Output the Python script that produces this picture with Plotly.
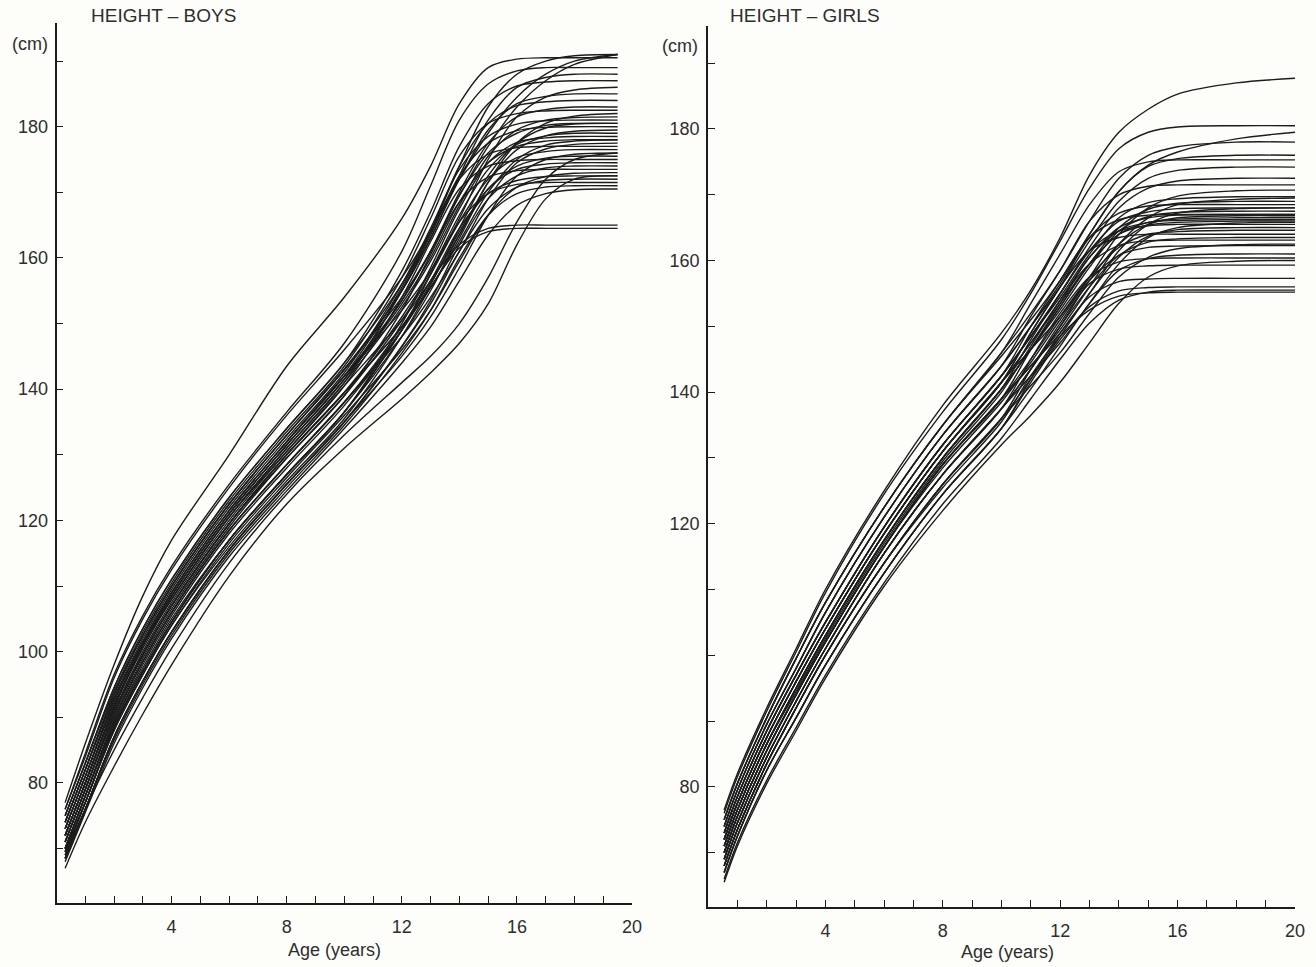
import plotly.graph_objects as go

# ---------------- data ----------------
boys_ages = [0.3, 1, 2, 3, 4, 6, 8, 10, 12, 13, 14, 15, 16, 17, 18, 19.5]
boys_heights = [
    [77, 86, 98, 108.5, 117, 130, 143.5, 154, 166, 174, 183.5, 189, 190.3, 190.5, 190.5, 190.5],
    [76, 84, 96, 105, 112.5, 125, 136, 146, 157, 164, 172, 179, 184.5, 188, 190, 191],
    [75, 83, 94.5, 103.5, 111, 123.5, 134, 144, 156, 164, 174, 183, 188, 190, 190.8, 191],
    [76, 84.5, 96.5, 105.5, 113, 125.5, 136.5, 147, 161, 171, 181, 186.5, 188.5, 189, 189, 189],
    [74, 82, 93.5, 102.5, 110, 122.5, 133, 143, 155, 163, 172.5, 181, 186, 187.5, 188, 188],
    [75, 83, 94.5, 103.5, 111, 123.5, 134, 144, 158, 167, 177, 183.5, 186.2, 186.8, 187, 187],
    [73, 81, 92.5, 101.5, 109, 121.5, 132, 142, 152, 158, 166, 175, 181.5, 184.5, 185.6, 186],
    [74, 82, 93.5, 102.5, 110, 122.5, 133, 143, 155, 163, 172, 179.5, 183.5, 184.6, 185, 185],
    [72, 80, 91.5, 101, 108, 120.5, 131, 141, 155, 164, 174, 180.5, 183.2, 183.8, 184, 184],
    [73, 81, 92.5, 101.5, 109, 121.5, 132, 142, 153.5, 161, 170, 177.5, 181.5, 182.6, 183, 183],
    [75, 83, 94, 103, 110.5, 123, 133.5, 143.5, 157, 166, 175.5, 180.5, 182, 182.4, 182.5, 182.5],
    [71, 79, 90.5, 99.5, 107, 119.5, 130, 139.5, 149.5, 155.5, 163, 171.5, 177.5, 180.5, 181.6, 182],
    [72, 80, 91.5, 101, 108, 120.5, 131, 141, 152.5, 159.5, 168, 175.5, 179.5, 181, 181.4, 181.5],
    [74, 82, 93, 102, 109.5, 122, 132.5, 142.5, 156, 164.5, 173.5, 178.5, 180.4, 180.9, 181, 181],
    [70, 78, 89.5, 98.5, 106, 118.5, 128.5, 138, 149, 156, 164.5, 172.5, 177.5, 179.8, 180.4, 180.5],
    [73, 81, 92, 101, 108.5, 121, 131.5, 141.5, 155, 163.5, 172.5, 177.5, 179.4, 179.9, 180, 180],
    [72, 80, 91.5, 100.5, 108, 120.5, 130.5, 140.5, 150.5, 156.5, 163.5, 171.5, 176.5, 178.6, 179.3, 179.5],
    [71, 79, 90.5, 99.5, 107, 119.5, 130, 139.5, 151, 158, 166.5, 173.5, 177.3, 178.6, 179, 179],
    [69.5, 77, 88.5, 97, 104.5, 117, 127, 136.5, 150, 158.5, 167.5, 174.5, 177.6, 178.3, 178.5, 178.5],
    [72, 80, 91.5, 101, 108.5, 121, 131.5, 141.5, 153, 160, 168.5, 174.5, 177, 177.8, 178, 178],
    [70, 78, 89.5, 98.5, 106, 118.5, 128.5, 138, 148, 154, 161, 169, 174.5, 176.6, 177.3, 177.5],
    [73, 81, 92.5, 101.5, 109, 121.5, 132, 142, 155.5, 164, 172, 175.8, 176.8, 177, 177, 177],
    [71, 79, 90, 99, 106.5, 119, 129.5, 139, 150.5, 157.5, 165.5, 172, 175.3, 176.2, 176.5, 176.5],
    [68.5, 76, 87, 95.5, 103, 115.5, 125.5, 135, 145, 151, 158.5, 166.5, 172.5, 175, 175.8, 176],
    [69.5, 77, 88.5, 97, 104.5, 117, 127, 136.5, 148, 155, 163.5, 170.5, 174, 175.2, 175.5, 175.5],
    [72, 80, 91, 100, 107.5, 120, 130.5, 140.5, 154, 162.5, 170.5, 174, 174.8, 175, 175, 175],
    [70, 78, 89, 98, 105.5, 118, 128, 137.5, 149, 156, 164, 170.5, 173.5, 174.3, 174.5, 174.5],
    [68.5, 76, 87, 95.5, 103, 115.5, 125.5, 135, 146.5, 153.5, 162, 169, 172.5, 173.7, 174, 174],
    [71, 79, 90.5, 99.5, 107, 119.5, 129.5, 139, 152, 160.5, 168.5, 172.3, 173.3, 173.5, 173.5, 173.5],
    [69.5, 77, 88, 96.5, 104, 116.5, 126.5, 136, 146, 152, 159.5, 166.5, 170.8, 172.4, 172.9, 173],
    [70, 78, 89.5, 98.5, 106, 118.5, 128.5, 138, 149.5, 156.5, 164.5, 169.8, 171.8, 172.4, 172.5, 172.5],
    [68.5, 76, 87, 95.5, 103, 115.5, 125.5, 135, 146.5, 153, 161, 167.5, 170.8, 171.8, 172, 172],
    [67, 74, 82.5, 90.5, 98, 111.5, 122.5, 131, 138.5, 142.5, 147, 153, 162, 169, 172, 172.5],
    [69, 76, 85, 93, 100.5, 113.5, 124, 133, 141, 145, 150, 157, 165.5, 172, 175, 176],
    [69.5, 77, 88.5, 97, 104.5, 117, 127, 136.5, 149, 157.5, 165.5, 169.8, 171.2, 171.5, 171.5, 171.5],
    [68.5, 76, 86.5, 95, 102.5, 115, 125, 134.5, 145.5, 152, 160, 166.5, 169.8, 170.8, 171, 171],
    [68, 75.5, 86, 94.5, 102, 114.5, 124.5, 134, 144, 149.5, 156.5, 163.5, 168, 169.8, 170.4, 170.5],
    [70, 78, 89, 97.5, 105, 117, 127, 136.5, 149, 156.5, 162, 164.5, 165, 165, 165, 165],
    [69, 77, 88, 96.5, 104, 116, 126, 135.5, 148, 155.5, 161.5, 164, 164.5, 164.5, 164.5, 164.5],
    [74, 82, 93.5, 102.5, 110, 122.5, 133, 143, 154, 161, 169.5, 177, 183, 187, 189.5, 191],
    [72, 80, 91.5, 101, 108.5, 121, 131.5, 141.5, 153.5, 161, 169.5, 176, 179, 180.2, 180.5, 180.5],
    [71, 79, 90.5, 99.5, 107, 119.5, 130, 139.5, 149.5, 155.5, 162.5, 170, 175, 177.2, 177.8, 178],
]

girls_ages = [0.55, 1, 2, 3, 4, 6, 8, 10, 11, 12, 13, 14, 15, 16, 18, 20]
girls_heights = [
    [76.5, 82, 92, 101, 110, 125, 138, 149, 155.5, 163.5, 173, 179.5, 183, 185.3, 187, 187.7],
    [76, 81.5, 91.5, 100.5, 109.5, 124.5, 137, 148, 155, 163, 171, 177, 179.5, 180.3, 180.5, 180.5],
    [75, 80.5, 90.5, 99.5, 108, 122.5, 135, 145.5, 151, 157, 164, 170.5, 174.5, 176.5, 178.5, 179.5],
    [75, 80.5, 90.5, 99.5, 108, 122.5, 135, 146, 152, 158.5, 166, 172.5, 176, 177.3, 178, 178],
    [74, 79.5, 89.5, 98, 106.5, 121, 133.5, 144, 150, 156.5, 164, 170.5, 174.3, 175.5, 176, 176],
    [75, 80.5, 90.5, 99.5, 108, 122.5, 135, 146, 153.5, 161, 168.5, 173.5, 175, 175.3, 175.3, 175.3],
    [74, 79.5, 89.5, 98, 106.5, 121, 133.5, 144, 150, 156, 163, 169, 172.5, 173.7, 174.2, 174.2],
    [73, 78.5, 88.5, 97, 105, 119.5, 132, 142.5, 148.5, 155, 162, 168, 171, 172.1, 172.5, 172.5],
    [74, 79.5, 89.5, 98, 106.5, 121, 133.5, 144, 151.5, 158.5, 166, 170, 171.3, 171.5, 171.5, 171.5],
    [72, 77.5, 87.5, 96, 104, 118.5, 131, 141.5, 146.5, 151.5, 157.5, 164, 168, 169.8, 170.6, 170.7],
    [73, 78.5, 88.5, 97, 105, 119.5, 132, 142.5, 148.5, 154.5, 161, 166.5, 168.8, 169.4, 169.7, 169.7],
    [71, 76.5, 86.5, 95, 103, 117.5, 130, 140.5, 146.5, 153, 159.5, 165, 167.8, 168.7, 169, 169],
    [72, 77.5, 87.5, 96, 104, 118.5, 131, 141.5, 149, 156, 163.5, 167.2, 168.3, 168.5, 168.5, 168.5],
    [70, 75.5, 85.5, 94, 102, 116.5, 129, 139, 144, 149, 155, 161.5, 165.5, 167.2, 167.9, 168],
    [71, 76.5, 86.5, 95, 103, 117.5, 130, 140.5, 146.5, 152.5, 159, 164.5, 166.7, 167.3, 167.5, 167.5],
    [73, 78.5, 88.5, 97, 105, 119.5, 132, 142.5, 150, 157, 163.5, 166.2, 166.9, 167, 167, 167],
    [69, 74.5, 84.5, 93, 101, 115.5, 127.5, 137.5, 143.5, 150, 157, 162.5, 165.5, 166.5, 166.8, 166.8],
    [71, 76.5, 86.5, 95, 103, 117.5, 130, 140.5, 146.5, 153, 159.5, 164, 165.8, 166.3, 166.5, 166.5],
    [70, 75.5, 85.5, 94, 102, 116.5, 129, 139, 146.5, 153.5, 160.5, 164.5, 165.8, 166.1, 166.2, 166.2],
    [72, 77.5, 87.5, 96, 104, 118.5, 131, 141.5, 147.5, 153.5, 159.5, 164, 165.4, 165.8, 166, 166],
    [69, 74.5, 84.5, 93, 101, 115.5, 127.5, 137.5, 142.5, 147.5, 153.5, 159.5, 163.5, 165, 165.7, 165.8],
    [71, 76.5, 86.5, 95, 103, 117.5, 130, 140.5, 148, 155, 161.5, 164.5, 165.3, 165.5, 165.5, 165.5],
    [68, 73.5, 83.5, 92, 100, 114, 126, 136, 142, 148.5, 155, 160.5, 163.7, 164.7, 165, 165],
    [70, 75.5, 85.5, 94, 102, 116.5, 129, 139, 145, 151.5, 157.5, 162, 164, 164.4, 164.6, 164.6],
    [72, 77.5, 87.5, 96, 104, 118.5, 131, 141.5, 149, 156, 161.5, 163.5, 164, 164, 164, 164],
    [69, 74.5, 84.5, 93, 101, 115.5, 127.5, 137.5, 143.5, 150, 156, 160.8, 162.8, 163.3, 163.5, 163.5],
    [71, 76.5, 86.5, 94.5, 102.5, 117, 129.5, 140, 147, 154, 159.5, 162.3, 163, 163.1, 163.1, 163.1],
    [68, 73.5, 83.5, 92, 100, 114, 126, 136, 141, 146, 152, 157.5, 160.5, 161.8, 162.4, 162.5],
    [70, 75.5, 85.5, 94, 102, 116.5, 128.5, 138.5, 144.5, 151, 157, 160.8, 162, 162.2, 162.3, 162.3],
    [67, 72.5, 82.5, 90.5, 98.5, 112.5, 124.5, 134.5, 140.5, 147, 153.5, 158.5, 160.3, 160.8, 161, 161],
    [69, 74.5, 84.5, 93, 101, 115.5, 127.5, 137.5, 145, 152, 157.5, 159.8, 160.3, 160.4, 160.4, 160.4],
    [68, 73.5, 83.5, 92, 100, 114, 126, 136, 143.5, 150.5, 156.5, 158.7, 159.2, 159.3, 159.3, 159.3],
    [65.5, 71, 80.5, 88.5, 96.5, 110.5, 122, 132, 136.5, 141.5, 147.5, 153.5, 157.5, 159.2, 159.9, 160],
    [67, 72.5, 82.5, 90.5, 98.5, 112.5, 124.5, 134.5, 142, 149, 154.5, 156.8, 157.2, 157.3, 157.3, 157.3],
    [67, 72.5, 82.5, 90.5, 98.5, 112.5, 124.5, 134.5, 141.5, 148, 153, 155.4, 155.9, 156, 156, 156],
    [66, 71.5, 81, 89, 97, 111, 123, 133, 139, 145, 150.5, 154, 155.2, 155.5, 155.5, 155.5],
    [68, 73.5, 83.5, 92, 100, 114, 125.5, 135.5, 142.5, 148.5, 152.5, 154.6, 155.1, 155.2, 155.2, 155.2],
    [73, 78.5, 88.5, 97, 105, 119.5, 132, 142.5, 148.5, 155, 161.5, 166, 167.4, 167.9, 168, 168],
    [72, 77.5, 87.5, 96, 104, 118.5, 131, 141.5, 147.5, 154, 160.5, 165, 166.5, 166.9, 167, 167],
    [70, 75.5, 85.5, 94, 102, 116.5, 129, 139, 144, 149.5, 156, 162.5, 166.5, 168.5, 169.3, 169.5],
]

x_tick_vals = [1, 2, 3, 4, 5, 6, 7, 8, 9, 10, 11, 12, 13, 14, 15, 16, 17, 18, 19, 20]
x_tick_text = ["", "", "", "4", "", "", "", "8", "", "", "", "12", "", "", "", "16", "", "", "", "20"]
y_tick_vals = [70, 80, 90, 100, 110, 120, 130, 140, 150, 160, 170, 180, 190]
boys_y_tick_text = ["", "80", "", "100", "", "120", "", "140", "", "160", "", "180", ""]
girls_y_tick_text = ["", "80", "", "", "", "120", "", "140", "", "160", "", "180", ""]

panel_titles = ["HEIGHT \u2013 BOYS", "HEIGHT \u2013 GIRLS"]
unit_label = "(cm)"
x_title = "Age (years)"

# ---------------- figure ----------------
W, H = 1316, 967
INK = "#1c1c1c"
TXT = "#2e2e2e"
FONT = "Liberation Sans, Arial, sans-serif"

fig = go.Figure()
for row in boys_heights:
    fig.add_trace(go.Scatter(x=boys_ages, y=row, mode="lines", xaxis="x", yaxis="y",
                             line=dict(color=INK, width=1.4, shape="spline", smoothing=0.9),
                             hoverinfo="skip", showlegend=False))
for row in girls_heights:
    fig.add_trace(go.Scatter(x=girls_ages, y=row, mode="lines", xaxis="x2", yaxis="y2",
                             line=dict(color=INK, width=1.4, shape="spline", smoothing=0.9),
                             hoverinfo="skip", showlegend=False))


def px_x(p):
    return p / W


def px_y(p):
    return (H - p) / H


axis_common = dict(showline=True, linecolor=INK, linewidth=1.6, showgrid=False, zeroline=False,
                   ticks="inside", ticklen=7, tickwidth=1.4, tickcolor=INK, automargin=False,
                   tickfont=dict(family=FONT, size=18, color=TXT), fixedrange=True)

fig.update_layout(
    width=W, height=H,
    margin=dict(l=0, r=0, t=0, b=0),
    paper_bgcolor="#fdfdfa", plot_bgcolor="#fdfdfa",
    showlegend=False,
    xaxis=dict(domain=[px_x(56.5), px_x(632)], range=[0, 20], anchor="y",
               tickmode="array", tickvals=x_tick_vals, ticktext=x_tick_text,
               ticklabelstandoff=7, **axis_common),
    yaxis=dict(domain=[px_y(903), px_y(23)], range=[61.7, 195.8], anchor="x",
               tickmode="array", tickvals=y_tick_vals, ticktext=boys_y_tick_text,
               ticklabelstandoff=3, **axis_common),
    xaxis2=dict(domain=[px_x(708), px_x(1295)], range=[0, 20], anchor="y2",
                tickmode="array", tickvals=x_tick_vals, ticktext=x_tick_text,
                ticklabelstandoff=7, **axis_common),
    yaxis2=dict(domain=[px_y(907), px_y(26)], range=[61.75, 195.65], anchor="x2",
                tickmode="array", tickvals=y_tick_vals, ticktext=girls_y_tick_text,
                ticklabelstandoff=3, **axis_common),
)

ann = []
ann.append(dict(text=panel_titles[0], x=px_x(89), y=px_y(15), xanchor="left", yanchor="middle"))
ann.append(dict(text=panel_titles[1], x=px_x(728), y=px_y(15), xanchor="left", yanchor="middle"))
ann.append(dict(text=unit_label, x=px_x(30), y=px_y(44), xanchor="center", yanchor="middle"))
ann.append(dict(text=unit_label, x=px_x(680), y=px_y(46), xanchor="center", yanchor="middle"))
ann.append(dict(text=x_title, x=px_x(334), y=px_y(950), xanchor="center", yanchor="middle"))
ann.append(dict(text=x_title, x=px_x(1007), y=px_y(952), xanchor="center", yanchor="middle"))

for i, a in enumerate(ann):
    size = 19 if i < 2 else 18
    a.update(xref="paper", yref="paper", showarrow=False,
             font=dict(family=FONT, size=size, color=TXT))
fig.update_layout(annotations=ann)

fig.write_html("out.html", config={"displayModeBar": False},
               post_script="document.body.style.margin='0';document.body.style.overflow='hidden';")
